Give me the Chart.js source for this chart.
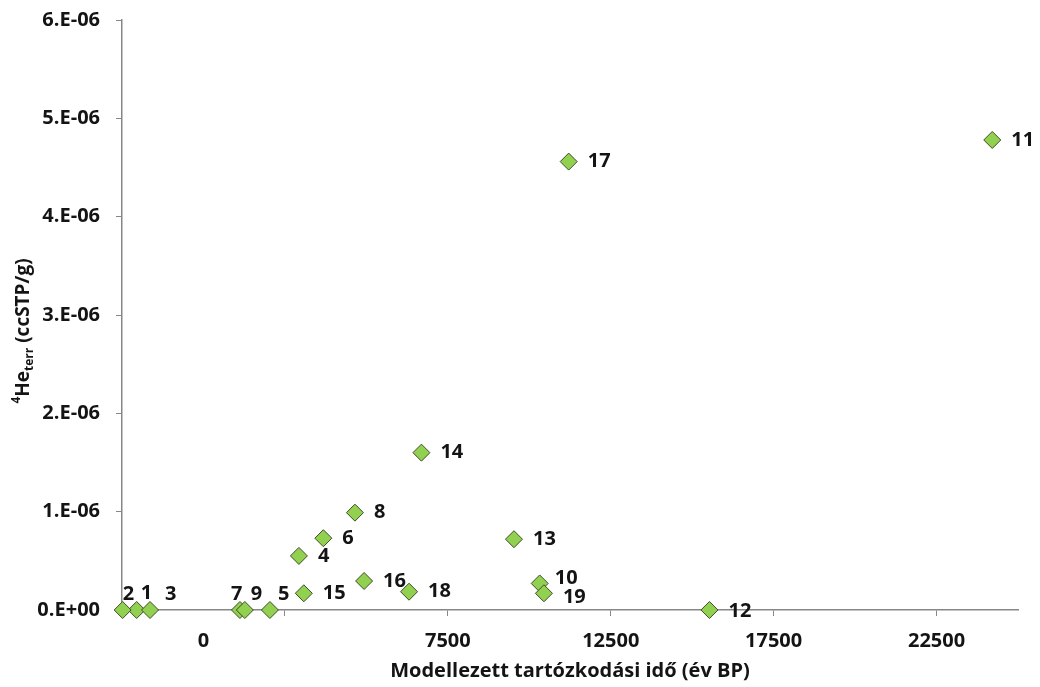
<!DOCTYPE html>
<html>
<head>
<meta charset="utf-8">
<script src="https://cdn.jsdelivr.net/npm/chart.js@4.4.1/dist/chart.umd.min.js"></script>
<style>
  html, body { margin: 0; padding: 0; background: #fff; }
  #wrap { width: 1040px; height: 687px; }
</style>
</head>
<body>
<div id="wrap"><canvas id="heChart" width="1040" height="687"></canvas></div>
<script>
// sample numbers, modelled residence time (years BP) and terrigenic 4He (ccSTP/g)
const sampleIds = ['1', '2', '3', '4', '5', '6', '7', '8', '9', '10',
                   '11', '12', '13', '14', '15', '16', '17', '18', '19'];
const residenceYears = [-2050, -2480, -1640, 2930, 2040, 3680, 1120, 4650, 1270, 10320,
                        24210, 15530, 9530, 6690, 3080, 4930, 11210, 6310, 10450];
const he4Terr = [0, 0, 0, 0.55e-6, 0, 0.73e-6, 0, 0.99e-6, 0, 0.27e-6,
                 4.78e-6, 0, 0.72e-6, 1.60e-6, 0.17e-6, 0.295e-6, 4.56e-6, 0.186e-6, 0.17e-6];

const xTickValues = [-2500, 0, 2500, 7500, 12500, 17500, 22500];
const xTickLabels = ['', '0', '', '7500', '12500', '17500', '22500'];
const yTickLabels = ['0.E+00', '1.E-06', '2.E-06', '3.E-06', '4.E-06', '5.E-06', '6.E-06'];

// hand placed labels where the points crowd together (default is right of the point)
const labelShift = {
  '2': [0, -16], '1': [4, -17], '3': [15, -16], '7': [-9, -16], '9': [6, -16], '5': [8, -16],
  '10': [15, -5], '19': [19, 4], '12': [19, 1]
};

const textColor = '#141414';
const axisColor = '#878787';
const tickFont = { family: 'Open Sans', size: 20, weight: 'bold' };

const points = residenceYears.map((x, i) => ({ x: x, y: he4Terr[i] }));

const labelPlugin = {
  id: 'labelPlugin',
  afterDatasetsDraw(chart) {
    const ctx = chart.ctx;
    const meta = chart.getDatasetMeta(0);
    ctx.save();
    ctx.font = 'bold 20px "Open Sans"';
    ctx.fillStyle = textColor;
    ctx.textBaseline = 'middle';
    ctx.textAlign = 'left';
    meta.data.forEach((pt, i) => {
      const off = labelShift[sampleIds[i]] || [19, 0];
      ctx.fillText(sampleIds[i], pt.x + off[0], pt.y + off[1]);
    });
    ctx.restore();

    // y axis title with super- and subscript
    const area = chart.chartArea;
    const parts = [
      { t: '4', f: 'bold 12px "Open Sans"', dy: -7 },
      { t: 'He', f: 'bold 19px "Open Sans"', dy: 0 },
      { t: 'terr', f: 'bold 12px "Open Sans"', dy: 6 },
      { t: ' (ccSTP/g)', f: 'bold 19px "Open Sans"', dy: 0 }
    ];
    ctx.save();
    let total = 0;
    parts.forEach(p => { ctx.font = p.f; p.w = ctx.measureText(p.t).width; total += p.w; });
    ctx.translate(24, (area.top + area.bottom) / 2 + 16);
    ctx.rotate(-Math.PI / 2);
    ctx.fillStyle = textColor;
    ctx.textBaseline = 'middle';
    let x = -total / 2;
    parts.forEach(p => {
      ctx.font = p.f;
      ctx.fillText(p.t, x, p.dy);
      x += p.w;
    });
    ctx.restore();
  }
};

const chart = new Chart(document.getElementById('heChart'), {
  type: 'scatter',
  data: {
    datasets: [{
      data: points,
      pointStyle: 'rectRot',
      pointRadius: 8.5,
      pointBackgroundColor: '#92d050',
      pointBorderColor: '#3d4d2a',
      pointBorderWidth: 1,
      clip: false
    }]
  },
  options: {
    responsive: false,
    animation: false,
    devicePixelRatio: 1,
    layout: { padding: { left: 0, right: 22, top: 20, bottom: 0 } },
    plugins: { legend: { display: false }, tooltip: { enabled: false } },
    scales: {
      x: {
        type: 'linear',
        min: -2500,
        max: 25000,
        afterBuildTicks: axis => { axis.ticks = xTickValues.map(v => ({ value: v })); },
        afterFit: axis => { axis.height = 77; axis.paddingLeft = 0; axis.paddingRight = 0; },
        ticks: {
          autoSkip: false,
          maxRotation: 0,
          padding: 13,
          color: textColor,
          font: tickFont,
          callback: (v, i) => xTickLabels[i]
        },
        grid: {
          drawOnChartArea: false,
          drawTicks: true,
          tickLength: 6,
          tickColor: c => (c.tick && (c.tick.value === 0 || c.tick.value === -2500)) ? 'rgba(0,0,0,0)' : axisColor
        },
        border: { display: true, color: axisColor, width: 1.5 },
        title: {
          display: true,
          text: 'Modellezett tartózkodási idő (év BP)',
          color: textColor,
          font: { family: 'Open Sans', size: 20, weight: 'bold' },
          padding: { top: 0, bottom: 4 }
        }
      },
      y: {
        type: 'linear',
        min: 0,
        max: 6e-6,
        afterBuildTicks: axis => { axis.ticks = yTickLabels.map((l, i) => ({ value: i * 1e-6 })); },
        afterFit: axis => { axis.width = 122; axis.paddingTop = 0; axis.paddingBottom = 0; },
        ticks: {
          autoSkip: false,
          padding: 16,
          color: textColor,
          font: tickFont,
          callback: (v, i) => yTickLabels[i]
        },
        grid: {
          drawOnChartArea: false,
          drawTicks: true,
          tickLength: 6,
          tickColor: axisColor
        },
        border: { display: true, color: axisColor, width: 1.5 }
      }
    }
  },
  plugins: [labelPlugin]
});
</script>
</body>
</html>
